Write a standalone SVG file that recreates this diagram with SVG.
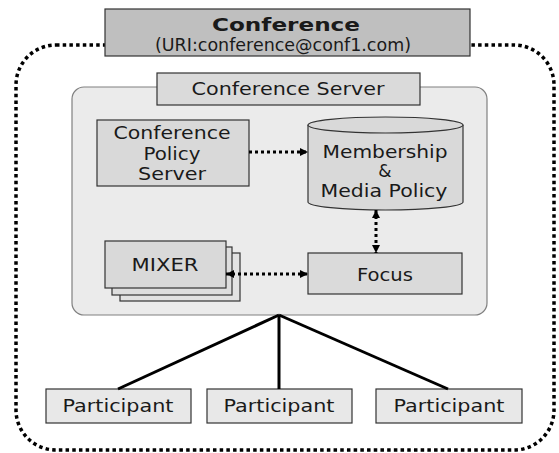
<svg xmlns="http://www.w3.org/2000/svg" width="559" height="453" viewBox="0 0 559 453">
<defs>
<style>
text{font-family:"DejaVu Sans","Verdana",sans-serif;font-size:17px;fill:#1a1a1a;text-anchor:middle}
.box{stroke:#333;stroke-width:1.2}
.dot{fill:none;stroke:#000;stroke-width:3;stroke-dasharray:3 3}
.solid{fill:none;stroke:#000;stroke-width:3}
</style>
<marker id="ah" viewBox="0 0 8 8" refX="8" refY="4" markerWidth="8" markerHeight="8" markerUnits="userSpaceOnUse" orient="auto-start-reverse">
<path d="M0,0 L8,4 L0,8 z" fill="#000"/>
</marker>
</defs>
<rect x="0" y="0" width="559" height="453" fill="#fff"/>
<g id="outer">
<rect x="16" y="45" width="538" height="405" rx="40" ry="40" fill="none" stroke="#000" stroke-width="3.5" stroke-dasharray="3.5 3.2"/>
</g>
<g id="conference">
<rect class="box" x="105" y="9" width="365" height="47" fill="#bfbfbf"/>
<text x="286" y="31" font-weight="bold" font-size="18" textLength="148" lengthAdjust="spacingAndGlyphs">Conference</text>
<text x="283" y="51" font-size="14" textLength="256" lengthAdjust="spacingAndGlyphs">(URI:conference@conf1.com)</text>
</g>
<g id="conference-server">
<rect x="72" y="87" width="415" height="228" rx="12" ry="12" fill="#ebebeb" stroke="#808080" stroke-width="1.2"/>
<rect class="box" x="157" y="73" width="263" height="32" fill="#dadada"/>
<text x="288" y="95" textLength="193" lengthAdjust="spacingAndGlyphs">Conference Server</text>
</g>
<g id="policy-server">
<rect class="box" x="97" y="120" width="152" height="66" fill="#d9d9d9"/>
<text x="172" y="139" textLength="117" lengthAdjust="spacingAndGlyphs">Conference</text>
<text x="172" y="160" textLength="57" lengthAdjust="spacingAndGlyphs">Policy</text>
<text x="172" y="180" textLength="68" lengthAdjust="spacingAndGlyphs">Server</text>
</g>
<g id="membership-policy">
<path d="M308,125 V202 A77.5,8 0 0 0 463,202 V125" fill="#d9d9d9" stroke="#333" stroke-width="1.2"/>
<ellipse cx="385.5" cy="125" rx="77.5" ry="8" fill="#d9d9d9" stroke="#333" stroke-width="1.2"/>
<text x="385" y="158" textLength="125" lengthAdjust="spacingAndGlyphs">Membership</text>
<text x="385" y="177">&amp;</text>
<text x="384" y="197" textLength="127" lengthAdjust="spacingAndGlyphs">Media Policy</text>
</g>
<g id="mixer">
<rect class="box" x="120" y="253" width="120" height="48" fill="#e2e2e2"/>
<rect class="box" x="112" y="247" width="120" height="48" fill="#dedede"/>
<rect class="box" x="105" y="241" width="121" height="47" fill="#d9d9d9"/>
<text x="165" y="271" textLength="67" lengthAdjust="spacingAndGlyphs">MIXER</text>
</g>
<g id="focus">
<rect class="box" x="308" y="253" width="154" height="41" fill="#dadada"/>
<text x="385" y="281" textLength="56" lengthAdjust="spacingAndGlyphs">Focus</text>
</g>
<g id="participant-1">
<rect class="box" x="46" y="389" width="145" height="34" fill="#e8e8e8"/>
<text x="118" y="412" textLength="111" lengthAdjust="spacingAndGlyphs">Participant</text>
</g>
<g id="participant-2">
<rect class="box" x="207" y="389" width="145" height="34" fill="#e8e8e8"/>
<text x="279" y="412" textLength="111" lengthAdjust="spacingAndGlyphs">Participant</text>
</g>
<g id="participant-3">
<rect class="box" x="376" y="389" width="146" height="34" fill="#e8e8e8"/>
<text x="449" y="412" textLength="111" lengthAdjust="spacingAndGlyphs">Participant</text>
</g>
<g id="connectors">
<line class="dot" x1="249" y1="152" x2="308" y2="152" marker-end="url(#ah)"/>
<line class="dot" x1="376" y1="210" x2="376" y2="253" marker-start="url(#ah)" marker-end="url(#ah)"/>
<line class="dot" x1="226" y1="274" x2="308" y2="274" marker-start="url(#ah)" marker-end="url(#ah)"/>
<line class="solid" x1="279" y1="315" x2="118" y2="389"/>
<line class="solid" x1="279" y1="315" x2="279" y2="389"/>
<line class="solid" x1="279" y1="315" x2="448" y2="389"/>
</g>
</svg>
